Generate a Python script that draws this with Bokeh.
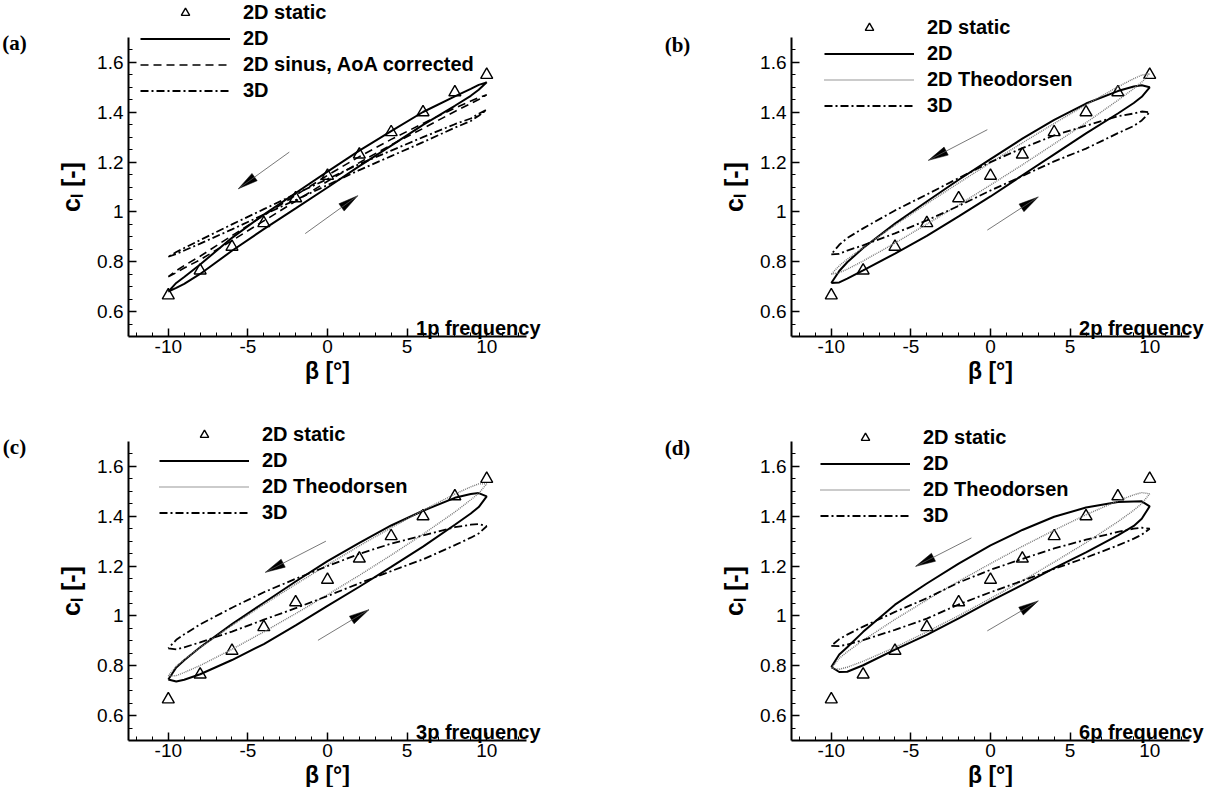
from bokeh.plotting import figure
from bokeh.layouts import column, row
from bokeh.models import (Range1d, FixedTicker, CustomJSTickFormatter, Legend,
                          LegendItem, Label, Arrow)
from bokeh.embed import file_html
from bokeh.resources import INLINE

# ---------------- data ----------------
beta_static = [-10, -8, -6, -4, -2, 0, 2, 4, 6, 8, 10]
cl_static = [0.665, 0.765, 0.86, 0.955, 1.055, 1.145, 1.23, 1.32, 1.40, 1.48, 1.55]

beta_loop = [-10, -9.5, -9, -8, -6, -4, -2, 0, 2, 4, 6, 8, 9, 9.5, 10]

# panel (a) 1p
a_2d_up = [0.68, 0.715, 0.739, 0.789, 0.896, 0.989, 1.076, 1.162, 1.246, 1.324, 1.401, 1.464, 1.494, 1.51, 1.52]
a_2d_lo = [0.68, 0.695, 0.711, 0.751, 0.844, 0.931, 1.014, 1.098, 1.184, 1.266, 1.349, 1.426, 1.466, 1.49, 1.52]
a_sin_up = [0.74, 0.764, 0.785, 0.822, 0.905, 0.986, 1.067, 1.147, 1.222, 1.291, 1.355, 1.417, 1.445, 1.459, 1.47]
a_sin_lo = [0.74, 0.756, 0.775, 0.808, 0.885, 0.964, 1.043, 1.123, 1.198, 1.269, 1.335, 1.403, 1.435, 1.451, 1.47]
a_3d_up = [0.82, 0.839, 0.855, 0.887, 0.95, 1.011, 1.072, 1.132, 1.192, 1.246, 1.30, 1.352, 1.375, 1.394, 1.41]
a_3d_lo = [0.82, 0.831, 0.845, 0.873, 0.93, 0.989, 1.048, 1.108, 1.168, 1.224, 1.28, 1.338, 1.365, 1.386, 1.41]

# panel (b) 2p
b_2d_up = [0.715, 0.763, 0.798, 0.855, 0.953, 1.042, 1.129, 1.212, 1.294, 1.369, 1.435, 1.485, 1.503, 1.508, 1.50]
b_2d_lo = [0.715, 0.717, 0.732, 0.765, 0.833, 0.904, 0.982, 1.062, 1.147, 1.231, 1.315, 1.395, 1.437, 1.462, 1.50]
b_th_up = [0.75, 0.784, 0.81, 0.857, 0.947, 1.033, 1.116, 1.198, 1.277, 1.355, 1.43, 1.502, 1.535, 1.549, 1.555]
b_th_lo = [0.75, 0.756, 0.77, 0.803, 0.875, 0.951, 1.028, 1.108, 1.189, 1.273, 1.358, 1.448, 1.495, 1.521, 1.555]
b_3d_up = [0.83, 0.868, 0.895, 0.934, 1.006, 1.07, 1.136, 1.20, 1.256, 1.307, 1.346, 1.384, 1.395, 1.403, 1.40]
b_3d_lo = [0.83, 0.832, 0.845, 0.866, 0.914, 0.966, 1.024, 1.086, 1.144, 1.203, 1.254, 1.316, 1.345, 1.367, 1.40]

# panel (c) 3p
c_2d_up = [0.745, 0.793, 0.822, 0.874, 0.967, 1.053, 1.138, 1.22, 1.293, 1.363, 1.422, 1.474, 1.489, 1.493, 1.48]
c_2d_lo = [0.745, 0.737, 0.744, 0.766, 0.823, 0.887, 0.962, 1.04, 1.117, 1.197, 1.278, 1.366, 1.411, 1.437, 1.48]
c_th_up = [0.76, 0.798, 0.825, 0.873, 0.962, 1.046, 1.127, 1.205, 1.281, 1.354, 1.424, 1.489, 1.518, 1.53, 1.53]
c_th_lo = [0.76, 0.76, 0.773, 0.801, 0.866, 0.936, 1.009, 1.085, 1.163, 1.244, 1.328, 1.417, 1.466, 1.492, 1.53]
c_3d_up = [0.87, 0.904, 0.926, 0.966, 1.033, 1.095, 1.149, 1.20, 1.249, 1.29, 1.323, 1.356, 1.366, 1.369, 1.36]
c_3d_lo = [0.87, 0.866, 0.874, 0.894, 0.937, 0.985, 1.031, 1.08, 1.131, 1.18, 1.227, 1.284, 1.314, 1.331, 1.36]

# panel (d) 6p
d_2d_up = [0.795, 0.845, 0.874, 0.936, 1.045, 1.13, 1.21, 1.283, 1.345, 1.398, 1.435, 1.457, 1.459, 1.46, 1.44]
d_2d_lo = [0.795, 0.775, 0.776, 0.802, 0.865, 0.924, 0.99, 1.059, 1.125, 1.192, 1.255, 1.323, 1.361, 1.39, 1.44]
d_th_up = [0.79, 0.83, 0.856, 0.902, 0.986, 1.064, 1.139, 1.21, 1.279, 1.344, 1.406, 1.462, 1.486, 1.495, 1.49]
d_th_lo = [0.79, 0.786, 0.794, 0.818, 0.874, 0.936, 1.001, 1.07, 1.141, 1.216, 1.294, 1.378, 1.424, 1.451, 1.49]
d_3d_up = [0.88, 0.907, 0.925, 0.957, 1.016, 1.071, 1.134, 1.185, 1.229, 1.271, 1.306, 1.337, 1.35, 1.354, 1.35]
d_3d_lo = [0.88, 0.879, 0.885, 0.903, 0.944, 0.989, 1.046, 1.095, 1.141, 1.189, 1.234, 1.283, 1.31, 1.326, 1.35]

x_ticks = [-10, -5, 0, 5, 10]
y_ticks = [0.6, 0.8, 1.0, 1.2, 1.4, 1.6]
x_minor = [-12, -11, -9, -8, -7, -6, -4, -3, -2, -1, 1, 2, 3, 4, 6, 7, 8, 9, 11, 12]
y_minor = [0.55, 0.65, 0.7, 0.75, 0.85, 0.9, 0.95, 1.05, 1.1, 1.15, 1.25, 1.3,
           1.35, 1.45, 1.5, 1.55, 1.65]

# ---------------- geometry / styles ----------------
FONT = "Liberation Sans"
X_LO, X_HI = -12.5, 12.5      # visible axis extents
Y_LO, Y_HI = 0.5, 1.7
SX = 398 / 25.0               # px per unit beta
SY = 299 / 1.2                # px per unit cl
COL_W = [663, 551]
ROW_H = [404, 383]
AXIS_X = [128, 128]           # y-axis position inside each figure (px from left)
AXIS_TOP = [37, 37]           # y=1.7 position inside each figure (px from top)
HEAD_L, HEAD_W = 20, 9        # arrow head size in px

STY = {
    "2D": dict(line_color="black", line_width=2.0),
    "sin": dict(line_color="black", line_width=1.6, line_dash="8 5"),
    "th": dict(line_color="#767676", line_width=1.4, line_dash="1 1"),
    "3D": dict(line_color="black", line_width=1.8, line_dash="8 3 2 3"),
}


def loop_xy(up, lo):
    xs = list(beta_loop) + list(beta_loop[::-1])
    ys = list(lo) + list(up[::-1])
    return xs, ys


def add_arrow(p, xa, ya, xb, yb):
    p.add_layout(Arrow(x_start=xa, y_start=ya, x_end=xb, y_end=yb, end=None,
                       line_width=0.8, line_color="#555555"))
    dxp, dyp = (xb - xa) * SX, (yb - ya) * SY
    n = (dxp ** 2 + dyp ** 2) ** 0.5
    ux, uy = dxp / n, dyp / n
    bx, by = -ux * HEAD_L, -uy * HEAD_L
    qx, qy = -uy * HEAD_W / 2, ux * HEAD_W / 2
    hx = [xb, xb + (bx + qx) / SX, xb + (bx - qx) / SX]
    hy = [yb, yb + (by + qy) / SY, yb + (by - qy) / SY]
    p.patch(hx, hy, fill_color="black", line_color="black", line_width=0.5)


def panel(col, rw, tag, freq, series, leg_loc, arrows, tag_dy):
    W, H = COL_W[col], ROW_H[rw]
    x0 = X_LO - AXIS_X[col] / SX
    y1 = Y_HI + AXIS_TOP[rw] / SY
    p = figure(width=W, height=H,
               x_range=Range1d(x0, x0 + W / SX), y_range=Range1d(y1 - H / SY, y1),
               output_backend="svg", toolbar_location=None,
               min_border_left=0, min_border_right=0,
               min_border_top=0, min_border_bottom=0)
    p.title.visible = False
    p.outline_line_color = None
    p.xgrid.visible = False
    p.ygrid.visible = False

    for ax in (p.xaxis[0], p.yaxis[0]):
        ax.axis_line_width = 2
        ax.axis_line_color = "black"
        ax.major_tick_in = 8
        ax.major_tick_out = 0
        ax.minor_tick_in = 4
        ax.minor_tick_out = 0
        ax.major_tick_line_width = 1.5
        ax.minor_tick_line_width = 1
        ax.major_label_text_font = FONT
        ax.major_label_text_font_size = "19px"
        ax.major_label_text_color = "black"
        ax.axis_label_text_font = FONT
        ax.axis_label_text_font_style = "bold"
        ax.axis_label_text_color = "black"
    p.xaxis.fixed_location = Y_LO
    p.yaxis.fixed_location = X_LO
    p.xaxis.bounds = (X_LO, X_HI)
    p.yaxis.bounds = (Y_LO, Y_HI)
    p.xaxis.ticker = FixedTicker(ticks=x_ticks, minor_ticks=x_minor)
    p.yaxis.ticker = FixedTicker(ticks=y_ticks, minor_ticks=y_minor)
    p.xaxis.formatter = CustomJSTickFormatter(code="return String(Math.round(tick*100)/100);")
    p.yaxis.formatter = CustomJSTickFormatter(code="return String(Math.round(tick*100)/100);")
    p.xaxis.axis_label = "β [°]"
    p.yaxis.axis_label = "cₗ [-]"
    p.xaxis.axis_label_text_font_size = "23px"
    p.yaxis.axis_label_text_font_size = "25px"
    p.xaxis.major_label_standoff = 3
    p.xaxis.axis_label_standoff = 2
    p.yaxis.major_label_standoff = 5
    p.yaxis.axis_label_standoff = 9

    items = []
    r_static = p.scatter(beta_static, cl_static, marker="triangle", size=12,
                         fill_color=None, line_color="black", line_width=1.4)
    items.append(LegendItem(label="2D static", renderers=[r_static]))
    for label, up, lo, key in series:
        xs, ys = loop_xy(up, lo)
        r = p.line(xs, ys, **STY[key])
        items.append(LegendItem(label=label, renderers=[r]))

    for (xa, ya, xb, yb) in arrows:
        add_arrow(p, xa, ya, xb, yb)

    leg = Legend(items=items, location=leg_loc, glyph_width=90, glyph_height=21,
                 label_height=21, spacing=3, padding=0, margin=0,
                 label_standoff=13, border_line_color=None,
                 background_fill_alpha=0, label_text_font=FONT,
                 label_text_font_style="bold", label_text_font_size="20px",
                 label_text_color="black")
    p.add_layout(leg)

    p.add_layout(Label(x=X_HI, y=Y_LO, x_offset=14, y_offset=9, text=freq,
                       text_align="right", text_baseline="alphabetic",
                       text_font=FONT, text_font_style="bold",
                       text_font_size="20px", text_color="black"))
    p.add_layout(Label(x=X_LO, y=Y_HI, x_offset=-114, y_offset=tag_dy, text=tag,
                       text_align="center", text_baseline="middle",
                       text_font="Liberation Serif", text_font_style="bold",
                       text_font_size="21px", text_color="black"))
    return p


pa = panel(0, 0, "(a)", "1p frequency",
           [("2D", a_2d_up, a_2d_lo, "2D"),
            ("2D sinus, AoA corrected", a_sin_up, a_sin_lo, "sin"),
            ("3D", a_3d_up, a_3d_lo, "3D")],
           (140, 302),
           [(-2.4, 1.24, -5.6, 1.093), (-1.4, 0.913, 1.9, 1.065)], -5)
pb = panel(1, 0, "(b)", "2p frequency",
           [("2D", b_2d_up, b_2d_lo, "2D"),
            ("2D Theodorsen", b_th_up, b_th_lo, "th"),
            ("3D", b_3d_up, b_3d_lo, "3D")],
           (161, 287),
           [(-0.2, 1.33, -3.9, 1.207), (-0.2, 0.927, 3.0, 1.06)], -7)
pc = panel(0, 1, "(c)", "3p frequency",
           [("2D", c_2d_up, c_2d_lo, "2D"),
            ("2D Theodorsen", c_th_up, c_th_lo, "th"),
            ("3D", c_3d_up, c_3d_lo, "3D")],
           (159, 263),
           [(-0.1, 1.30, -3.9, 1.175), (-0.6, 0.902, 2.6, 1.025)], -5)
pd_ = panel(1, 1, "(d)", "6p frequency",
            [("2D", d_2d_up, d_2d_lo, "2D"),
             ("2D Theodorsen", d_th_up, d_th_lo, "th"),
             ("3D", d_3d_up, d_3d_lo, "3D")],
            (157, 260),
            [(-1.2, 1.313, -4.7, 1.199), (-0.2, 0.94, 3.0, 1.06)], -6)

layout = column(row(pa, pb), row(pc, pd_))
open("out.html", "w").write(file_html(layout, INLINE))
